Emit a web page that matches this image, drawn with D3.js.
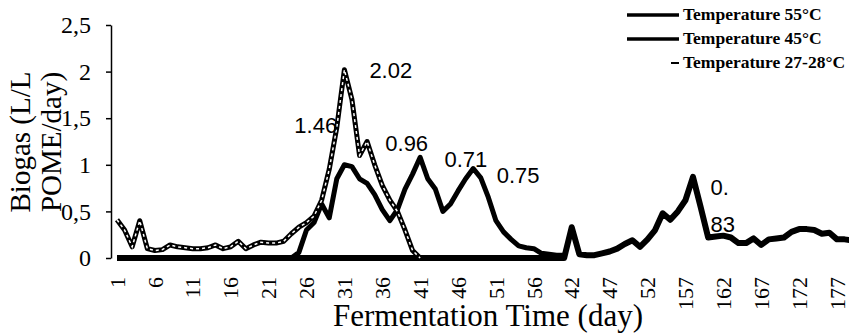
<!DOCTYPE html>
<html>
<head>
<meta charset="utf-8">
<script src="https://cdn.jsdelivr.net/npm/d3@7"></script>
<style>
body { margin: 0; background: #fff; }
</style>
</head>
<body>
<svg id="SVG_CONTAINER" width="849" height="336"></svg>
<script>
// day numbers on the x axis (the record jumps from day 56 to day 138)
const days = d3.range(1, 57).concat(d3.range(138, 180));

// tick labels as printed (every 5th day)
const xTickLabels = ["1", "6", "11", "16", "21", "26", "31", "36", "41", "46",
    "51", "56", "42", "47", "52", "157", "162", "167", "172", "177"];
const yTicks = [0, 0.5, 1, 1.5, 2, 2.5];

const seriesNames = ["Temperature 55°C", "Temperature 45°C", "Temperature 27-28°C"];

// biogas L/L POME/day, one value per day in "days"
const temp55 = [0.41, 0.30, 0.12, 0.40, 0.10, 0.08, 0.09, 0.14, 0.12, 0.11,
    0.10, 0.10, 0.11, 0.14, 0.10, 0.12, 0.18, 0.10, 0.14, 0.17,
    0.16, 0.16, 0.18, 0.26, 0.33, 0.38, 0.45, 0.62, 0.95, 1.40,
    2.02, 1.70, 1.10, 1.25, 1.00, 0.78, 0.62, 0.50, 0.30, 0.08,
    0.00];

const temp45 = [0, 0, 0, 0, 0, 0, 0, 0, 0, 0,
    0, 0, 0, 0, 0, 0, 0, 0, 0, 0,
    0, 0, 0, 0, 0.06, 0.30, 0.38, 0.58, 0.43, 0.85,
    1.00, 0.98, 0.85, 0.80, 0.68, 0.52, 0.40, 0.52, 0.74, 0.90,
    1.08, 0.85, 0.74, 0.50, 0.58, 0.72, 0.85, 0.96, 0.86, 0.65,
    0.40, 0.28, 0.20, 0.13, 0.11, 0.10, 0.05, 0.04, 0.03, 0.03];

const temp27 = [0, 0, 0, 0, 0, 0, 0, 0, 0, 0,
    0, 0, 0, 0, 0, 0, 0, 0, 0, 0,
    0, 0, 0, 0, 0, 0, 0, 0, 0, 0,
    0, 0, 0, 0, 0, 0, 0, 0, 0, 0,
    0, 0, 0, 0, 0, 0, 0, 0, 0, 0,
    0, 0, 0, 0, 0, 0, 0, 0, 0, 0,
    0.33, 0.04, 0.03, 0.03, 0.05, 0.07, 0.10, 0.15, 0.19, 0.12,
    0.20, 0.30, 0.48, 0.41, 0.50, 0.62, 0.87, 0.55, 0.22, 0.23,
    0.24, 0.22, 0.16, 0.16, 0.21, 0.14, 0.20, 0.21, 0.22, 0.28,
    0.31, 0.31, 0.30, 0.26, 0.27, 0.20, 0.20, 0.19];

// value labels written on the chart: text, day index, height
const annoText = ["2.02", "1.46", "0.96", "0.71", "0.75", "0.", "83"];
const annoIdx  = [33.3, 23.4, 35.4, 43.2, 50.1, 78.3, 78.3];
const annoVal  = [1.93, 1.34, 1.15, 0.98, 0.80, 0.68, 0.28];

const width = 849,
      height = 336;

let svg = d3.select("#SVG_CONTAINER");

let xScale = d3.scaleLinear()
    .domain([0, 95])
    .range([117, 837]);

let yScale = d3.scaleLinear()
    .domain([0, 2.5])
    .range([258, 25]);

let line = d3.line()
    .x((d, i) => xScale(i))
    .y(d => yScale(d));

// y axis
let yAxis = svg.append("g")
    .attr("transform", "translate(111,0)")
    .call(d3.axisLeft(yScale)
        .tickValues(yTicks)
        .tickSize(5)
        .tickSizeOuter(0)
        .tickPadding(15)
        .tickFormat(d => String(d).replace(".", ",")));
yAxis.select(".domain").attr("stroke", "#000").attr("stroke-width", 1.5);
yAxis.selectAll(".tick line").attr("stroke", "#000").attr("stroke-width", 1.5);
yAxis.selectAll("text")
    .style("font-family", "'Liberation Serif', serif")
    .style("font-size", "24px")
    .attr("fill", "#000");

// x tick labels, rotated
svg.append("g")
    .selectAll("text")
    .data(xTickLabels)
    .enter()
    .append("text")
        .attr("transform", (d, i) => `translate(${xScale(i * 5)},277)rotate(-90)`)
        .attr("dy", "0.35em")
        .attr("text-anchor", "end")
        .style("font-family", "'Liberation Serif', serif")
        .style("font-size", "22px")
        .text(d => d);

// lines
svg.append("path")
    .attr("d", line(temp27))
    .attr("fill", "none")
    .attr("stroke", "#000")
    .attr("stroke-width", 6)
    .attr("stroke-linejoin", "round");

svg.append("path")
    .attr("d", line(temp45))
    .attr("fill", "none")
    .attr("stroke", "#000")
    .attr("stroke-width", 5)
    .attr("stroke-linejoin", "round");

svg.append("path")
    .attr("d", line(temp55))
    .attr("fill", "none")
    .attr("stroke", "#000")
    .attr("stroke-width", 5)
    .attr("stroke-linejoin", "round");

svg.append("path")
    .attr("d", line(temp55))
    .attr("fill", "none")
    .attr("stroke", "#fff")
    .attr("stroke-width", 1.5)
    .attr("stroke-dasharray", "3,3");

// value labels
svg.append("g")
    .selectAll("text")
    .data(annoText)
    .enter()
    .append("text")
        .attr("x", (d, i) => xScale(annoIdx[i]))
        .attr("y", (d, i) => yScale(annoVal[i]))
        .style("font-family", "'Liberation Sans', Arial, sans-serif")
        .style("font-size", "22px")
        .text(d => d);

// legend
let legend = svg.append("g");
let legendY = [15, 39, 63];
let legendX1 = [627, 627, 671];
let legendW = [3.5, 3.5, 2];
seriesNames.forEach(function (name, i) {
    legend.append("line")
        .attr("x1", legendX1[i])
        .attr("x2", 679)
        .attr("y1", legendY[i])
        .attr("y2", legendY[i])
        .attr("stroke", "#000")
        .attr("stroke-width", legendW[i]);
    legend.append("text")
        .attr("x", 683)
        .attr("y", legendY[i] + 5)
        .style("font-family", "'Liberation Serif', serif")
        .style("font-size", "17.5px")
        .style("font-weight", "bold")
        .text(name);
});

// axis titles
svg.append("text")
    .attr("x", 488)
    .attr("y", 326)
    .attr("text-anchor", "middle")
    .style("font-family", "'Liberation Serif', serif")
    .style("font-size", "31px")
    .text("Fermentation Time (day)");

svg.append("text")
    .attr("transform", "translate(30,142)rotate(-90)")
    .attr("text-anchor", "middle")
    .style("font-family", "'Liberation Serif', serif")
    .style("font-size", "29px")
    .text("Biogas (L/L");

svg.append("text")
    .attr("transform", "translate(61,142)rotate(-90)")
    .attr("text-anchor", "middle")
    .style("font-family", "'Liberation Serif', serif")
    .style("font-size", "29px")
    .text("POME/day)");
</script>
</body>
</html>
